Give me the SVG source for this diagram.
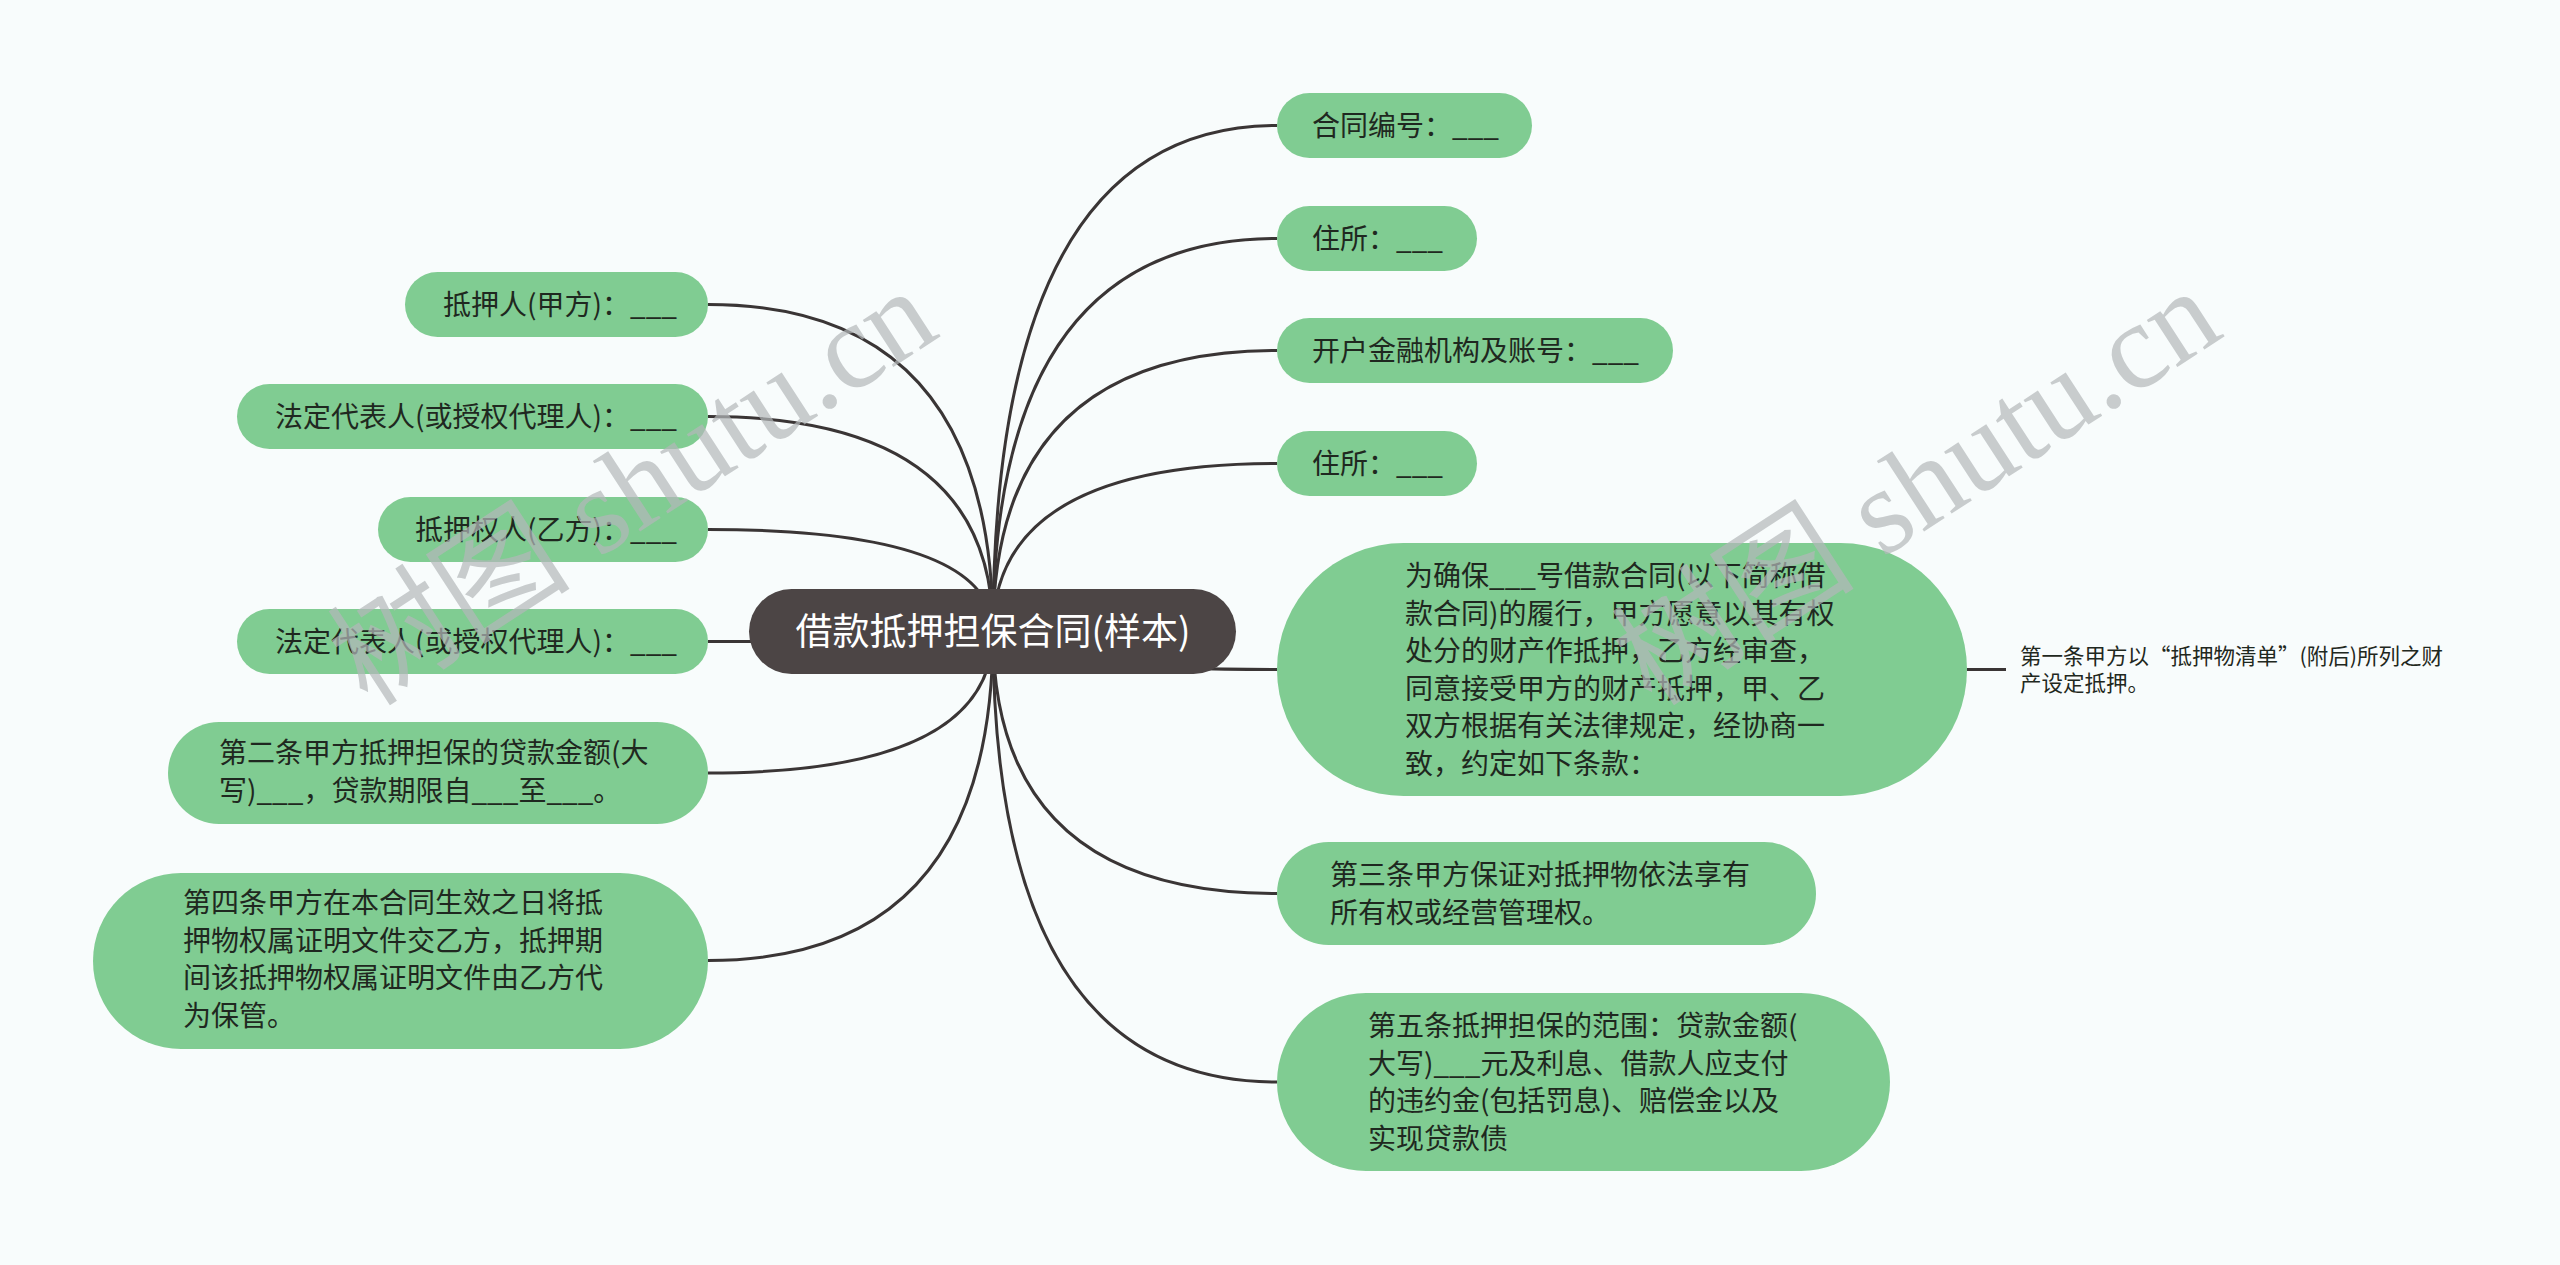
<svg xmlns="http://www.w3.org/2000/svg" width="2560" height="1265" viewBox="0 0 2560 1265">
<style>
.bg{fill:#f8fcfc}
.n rect{fill:#80cc92}
.root rect{fill:#4c4545}
.t{font-family:"Noto Sans CJK SC","Liberation Sans",sans-serif;font-size:28px;fill:#1f2820}
.rt{font-family:"Noto Sans CJK SC","Liberation Sans",sans-serif;font-size:37px;fill:#ffffff}
.s{font-family:"Noto Sans CJK SC","Liberation Sans",sans-serif;font-size:21.5px;fill:#1f2820}
.c path{fill:none;stroke:#3a3535;stroke-width:3}
.wm{font-family:"Liberation Serif","Noto Sans CJK SC",serif;font-size:122px;fill:#b4b8ba;opacity:0.7}
</style>
<rect class="bg" x="0" y="0" width="2560" height="1265"/>
<g id="connectors" class="c">
<path d="M993 632 Q993 125.5 1277 125.5"/>
<path d="M993 632 Q993 238.5 1277 238.5"/>
<path d="M993 632 Q993 350.5 1277 350.5"/>
<path d="M993 632 Q993 463.5 1277 463.5"/>
<path d="M993 632 Q993 669.5 1277 669.5"/>
<path d="M993 632 Q993 893.5 1277 893.5"/>
<path d="M993 632 Q993 1082 1277 1082"/>
<path d="M993 632 Q993 304.5 708 304.5"/>
<path d="M993 632 Q993 416.5 708 416.5"/>
<path d="M993 632 Q993 529.5 708 529.5"/>
<path d="M993 632 Q993 641.5 708 641.5"/>
<path d="M993 632 Q993 773 708 773"/>
<path d="M993 632 Q993 960.5 708 960.5"/>
<path d="M1967 669.5 L2006 669.5"/>
</g>
<g id="root" class="root">
<rect x="749" y="589" width="487" height="85" rx="42.5"/>
<text class="rt" x="993" y="645" text-anchor="middle">借款抵押担保合同(样本)</text>
</g>
<g id="r1" class="n"><rect x="1277" y="93" width="255" height="65" rx="32.5"/><text class="t" x="1312" y="135.5">合同编号：___</text></g>
<g id="r2" class="n"><rect x="1277" y="206" width="200" height="65" rx="32.5"/><text class="t" x="1312" y="248.5">住所：___</text></g>
<g id="r3" class="n"><rect x="1277" y="318" width="396" height="65" rx="32.5"/><text class="t" x="1312" y="360.5">开户金融机构及账号：___</text></g>
<g id="r4" class="n"><rect x="1277" y="431" width="200" height="65" rx="32.5"/><text class="t" x="1312" y="473.5">住所：___</text></g>
<g id="r5" class="n"><rect x="1277" y="543" width="690" height="253" rx="126.5"/>
<text class="t" x="1405"><tspan x="1405" y="586">为确保___号借款合同(以下简称借</tspan><tspan x="1405" y="623.5">款合同)的履行，甲方愿意以其有权</tspan><tspan x="1405" y="661">处分的财产作抵押，乙方经审查，</tspan><tspan x="1405" y="698.5">同意接受甲方的财产抵押，甲、乙</tspan><tspan x="1405" y="736">双方根据有关法律规定，经协商一</tspan><tspan x="1405" y="773.5">致，约定如下条款：</tspan></text></g>
<g id="r5a"><text class="s"><tspan x="2020" y="664">第一条甲方以“抵押物清单”(附后)所列之财</tspan><tspan x="2020" y="691">产设定抵押。</tspan></text></g>
<g id="r6" class="n"><rect x="1277" y="842" width="539" height="103" rx="51.5"/>
<text class="t"><tspan x="1330" y="885">第三条甲方保证对抵押物依法享有</tspan><tspan x="1330" y="922.5">所有权或经营管理权。</tspan></text></g>
<g id="r7" class="n"><rect x="1277" y="993" width="613" height="178" rx="89"/>
<text class="t"><tspan x="1368" y="1036">第五条抵押担保的范围：贷款金额(</tspan><tspan x="1368" y="1073.5">大写)___元及利息、借款人应支付</tspan><tspan x="1368" y="1111">的违约金(包括罚息)、赔偿金以及</tspan><tspan x="1368" y="1148.5">实现贷款债</tspan></text></g>
<g id="l1" class="n"><rect x="405" y="272" width="303" height="65" rx="32.5"/><text class="t" x="677" y="314.5" text-anchor="end">抵押人(甲方)：___</text></g>
<g id="l2" class="n"><rect x="237" y="384" width="471" height="65" rx="32.5"/><text class="t" x="677" y="426.5" text-anchor="end">法定代表人(或授权代理人)：___</text></g>
<g id="l3" class="n"><rect x="378" y="497" width="330" height="65" rx="32.5"/><text class="t" x="677" y="539.5" text-anchor="end">抵押权人(乙方)：___</text></g>
<g id="l4" class="n"><rect x="237" y="609" width="471" height="65" rx="32.5"/><text class="t" x="677" y="651.5" text-anchor="end">法定代表人(或授权代理人)：___</text></g>
<g id="l5" class="n"><rect x="168" y="722" width="540" height="102" rx="51"/>
<text class="t"><tspan x="219" y="763">第二条甲方抵押担保的贷款金额(大</tspan><tspan x="219" y="800.5">写)___，贷款期限自___至___。</tspan></text></g>
<g id="l6" class="n"><rect x="93" y="873" width="615" height="176" rx="88"/>
<text class="t"><tspan x="183" y="913">第四条甲方在本合同生效之日将抵</tspan><tspan x="183" y="950.5">押物权属证明文件交乙方，抵押期</tspan><tspan x="183" y="988">间该抵押物权属证明文件由乙方代</tspan><tspan x="183" y="1025.5">为保管。</tspan></text></g>
<g id="watermark">
<text class="wm" x="368" y="708" transform="rotate(-33 368 708)">树图 shutu.cn</text>
<text class="wm" x="1652" y="708" transform="rotate(-33 1652 708)">树图 shutu.cn</text>
</g>
</svg>
